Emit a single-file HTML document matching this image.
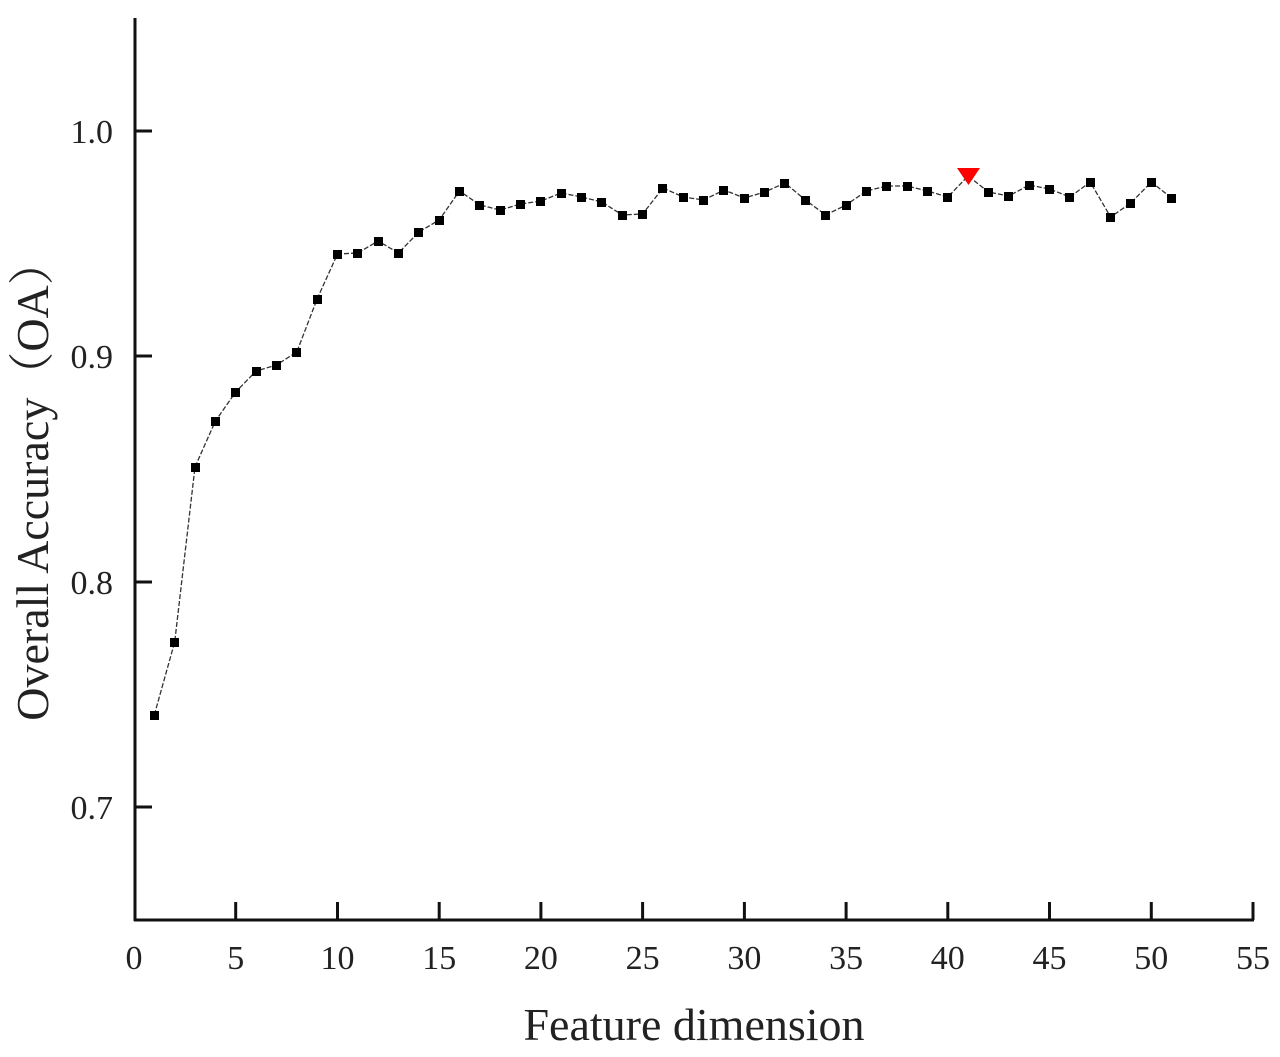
<!DOCTYPE html>
<html><head><meta charset="utf-8"><style>
html,body{margin:0;padding:0;background:#fff;}
svg{display:block;}
text{font-family:"Liberation Serif","Noto Serif CJK SC",serif;fill:#222;}
</style></head><body>
<svg width="1280" height="1057" viewBox="0 0 1280 1057">
<g stroke="#111" stroke-width="3" fill="none">
<line x1="135" y1="18" x2="135" y2="921"/>
<line x1="134" y1="920" x2="1254" y2="920"/>
<line x1="135" y1="131" x2="152" y2="131"/>
<line x1="135" y1="356" x2="152" y2="356"/>
<line x1="135" y1="582" x2="152" y2="582"/>
<line x1="135" y1="807" x2="152" y2="807"/>
<line x1="235.7" y1="920" x2="235.7" y2="902"/>
<line x1="337.5" y1="920" x2="337.5" y2="902"/>
<line x1="439.2" y1="920" x2="439.2" y2="902"/>
<line x1="540.9" y1="920" x2="540.9" y2="902"/>
<line x1="642.6" y1="920" x2="642.6" y2="902"/>
<line x1="744.4" y1="920" x2="744.4" y2="902"/>
<line x1="846.1" y1="920" x2="846.1" y2="902"/>
<line x1="947.8" y1="920" x2="947.8" y2="902"/>
<line x1="1049.5" y1="920" x2="1049.5" y2="902"/>
<line x1="1151.3" y1="920" x2="1151.3" y2="902"/>
<line x1="1253" y1="920" x2="1253" y2="902"/>
</g>
<g font-size="34" text-anchor="end">
<text x="113" y="143">1.0</text>
<text x="113" y="368">0.9</text>
<text x="113" y="594">0.8</text>
<text x="113" y="819">0.7</text>
</g>
<g font-size="34" text-anchor="middle">
<text x="134" y="969">0</text><text x="235.7" y="969">5</text><text x="337.5" y="969">10</text>
<text x="439.2" y="969">15</text><text x="540.9" y="969">20</text><text x="642.6" y="969">25</text>
<text x="744.4" y="969">30</text><text x="846.1" y="969">35</text><text x="947.8" y="969">40</text>
<text x="1049.5" y="969">45</text><text x="1151.3" y="969">50</text><text x="1253" y="969">55</text>
</g>
<text x="694" y="1040" font-size="46" text-anchor="middle">Feature dimension</text>
<text transform="translate(48,480) rotate(-90)" font-size="46" text-anchor="middle">Overall Accuracy（OA）</text>
<polyline fill="none" stroke="#333" stroke-width="1.3" stroke-dasharray="5,2" points="154.3,715 174.7,642 195,467 215.4,421 235.7,392 256.1,371 276.4,365 296.8,352 317.1,299 337.5,254 357.8,253 378.1,241 398.5,253 418.8,232 439.2,220 459.5,191 479.9,205 500.2,210 520.6,204 540.9,201 561.2,193 581.6,197 601.9,202 622.3,215 642.6,214 663,188 683.3,197 703.7,200 724,190 744.4,198 764.7,192 785,183 805.4,200 825.7,215 846.1,205 866.4,191 886.8,186 907.1,186 927.5,191 947.8,197 968.1,176 988.5,192 1008.8,196 1029.2,185 1049.5,189 1069.9,197 1090.2,182 1110.6,217 1130.9,203 1151.3,182 1171.6,198"/>
<g fill="#000">
<rect x="150" y="711" width="9" height="9"/><rect x="170" y="638" width="9" height="9"/><rect x="191" y="463" width="9" height="9"/>
<rect x="211" y="417" width="9" height="9"/><rect x="231" y="388" width="9" height="9"/><rect x="252" y="367" width="9" height="9"/>
<rect x="272" y="361" width="9" height="9"/><rect x="292" y="348" width="9" height="9"/><rect x="313" y="295" width="9" height="9"/>
<rect x="333" y="250" width="9" height="9"/><rect x="353" y="249" width="9" height="9"/><rect x="374" y="237" width="9" height="9"/>
<rect x="394" y="249" width="9" height="9"/><rect x="414" y="228" width="9" height="9"/><rect x="435" y="216" width="9" height="9"/>
<rect x="455" y="187" width="9" height="9"/><rect x="475" y="201" width="9" height="9"/><rect x="496" y="206" width="9" height="9"/>
<rect x="516" y="200" width="9" height="9"/><rect x="536" y="197" width="9" height="9"/><rect x="557" y="189" width="9" height="9"/>
<rect x="577" y="193" width="9" height="9"/><rect x="597" y="198" width="9" height="9"/><rect x="618" y="211" width="9" height="9"/>
<rect x="638" y="210" width="9" height="9"/><rect x="658" y="184" width="9" height="9"/><rect x="679" y="193" width="9" height="9"/>
<rect x="699" y="196" width="9" height="9"/><rect x="719" y="186" width="9" height="9"/><rect x="740" y="194" width="9" height="9"/>
<rect x="760" y="188" width="9" height="9"/><rect x="780" y="179" width="9" height="9"/><rect x="801" y="196" width="9" height="9"/>
<rect x="821" y="211" width="9" height="9"/><rect x="842" y="201" width="9" height="9"/><rect x="862" y="187" width="9" height="9"/>
<rect x="882" y="182" width="9" height="9"/><rect x="903" y="182" width="9" height="9"/><rect x="923" y="187" width="9" height="9"/>
<rect x="943" y="193" width="9" height="9"/><rect x="984" y="188" width="9" height="9"/>
<rect x="1004" y="192" width="9" height="9"/><rect x="1025" y="181" width="9" height="9"/><rect x="1045" y="185" width="9" height="9"/>
<rect x="1065" y="193" width="9" height="9"/><rect x="1086" y="178" width="9" height="9"/><rect x="1106" y="213" width="9" height="9"/>
<rect x="1126" y="199" width="9" height="9"/><rect x="1147" y="178" width="9" height="9"/><rect x="1167" y="194" width="9" height="9"/>
</g>
<polygon points="957,168 980,168 968.5,185" fill="#f00"/>
</svg>
</body></html>
